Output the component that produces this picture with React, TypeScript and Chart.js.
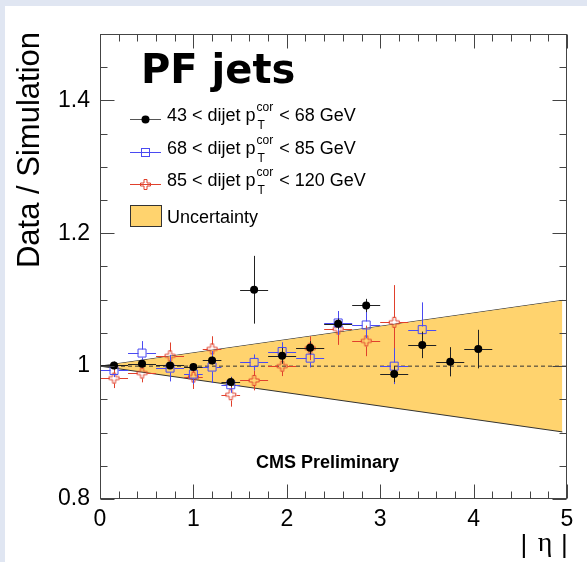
import React, { useEffect, useRef } from "react";
import { Chart, registerables } from "chart.js";

Chart.register(...registerables);

// |eta| bin centres and half widths
const etaCenters = [0.15, 0.45, 0.75, 1.0, 1.2, 1.4, 1.65, 1.95, 2.25, 2.55, 2.85, 3.15, 3.45, 3.75, 4.05];
const etaHalfWidths = [0.15, 0.15, 0.15, 0.1, 0.1, 0.1, 0.15, 0.15, 0.15, 0.15, 0.15, 0.15, 0.15, 0.15, 0.15];

// Data / Simulation ratio per dijet pT bin
const ratioLowPt = [1.001, 1.0036, 1.001, 0.9986, 1.0086, 0.976, 1.115, 1.0156, 1.0277, 1.0638, 1.0913, 0.988, 1.032, 1.0066, 1.0257];
const errLowPt = [0.006, 0.005, 0.005, 0.006, 0.006, 0.007, 0.051, 0.012, 0.01, 0.008, 0.01, 0.012, 0.02, 0.022, 0.029];

const ratioMidPt = [0.9935, 1.0197, 0.997, 0.988, 0.9986, 0.972, 1.0056, 1.022, 1.012, 1.065, 1.062, 1.0, 1.055];
const errMidPt = [0.01, 0.018, 0.02, 0.015, 0.024, 0.012, 0.012, 0.014, 0.014, 0.018, 0.02, 0.027, 0.041];

const ratioHighPt = [0.982, 0.9896, 1.0156, 0.9836, 1.026, 0.957, 0.9785, 1.0, 1.027, 1.056, 1.038, 1.066];
const errHighPt = [0.015, 0.014, 0.02, 0.018, 0.019, 0.018, 0.015, 0.015, 0.018, 0.024, 0.023, 0.056];

const ptEdges = [43, 68, 85, 120];

// Systematic uncertainty band (half width vs |eta|)
const bandEta = [0, 4.95];
const bandHalfWidth = [0, 0.099];

const xTickValues = [0, 1, 2, 3, 4, 5];
const yTickValues = [0.8, 1.0, 1.2, 1.4];

const BAND_FILL = "#ffd36e";
const LINE_DARK = "#333333";
const BLUE = "#4a4af2";
const RED = "#e0402c";
const SANS = '"Liberation Sans", Arial, Helvetica, sans-serif';

function makeOpenCross(color: string): HTMLCanvasElement {
  const c = document.createElement("canvas");
  c.width = 13;
  c.height = 13;
  const g = c.getContext("2d")!;
  const o = 6.5;
  const a = 5;
  const t = 1.5;
  const pts = [
    [-t, -a], [t, -a], [t, -t], [a, -t], [a, t], [t, t],
    [t, a], [-t, a], [-t, t], [-a, t], [-a, -t], [-t, -t],
  ];
  g.beginPath();
  pts.forEach(([px, py], i) => (i ? g.lineTo(o + px, o + py) : g.moveTo(o + px, o + py)));
  g.closePath();
  g.strokeStyle = color;
  g.lineWidth = 1;
  g.stroke();
  return c;
}

const backgroundPlugin = {
  id: "pageBackground",
  beforeDraw(chart: any) {
    const { ctx, width, height } = chart;
    ctx.save();
    ctx.fillStyle = "#e0e6f2";
    ctx.fillRect(0, 0, width, height);
    ctx.fillStyle = "#ffffff";
    ctx.fillRect(5, 6, width - 5, height - 6);
    ctx.restore();
  },
};

const errorBarPlugin = {
  id: "errorBars",
  beforeDatasetDraw(chart: any, args: any) {
    const ds: any = chart.data.datasets[args.index];
    if (!ds.yErr) return;
    const xs = chart.scales.x;
    const ys = chart.scales.y;
    const ctx = chart.ctx;
    ctx.save();
    ctx.strokeStyle = ds.barColor;
    ctx.lineWidth = 1;
    ds.data.forEach((p: any, i: number) => {
      const cx = Math.round(xs.getPixelForValue(p.x)) + 0.5;
      const cy = Math.round(ys.getPixelForValue(p.y)) + 0.5;
      const x0 = xs.getPixelForValue(p.x - ds.xErr[i]);
      const x1 = xs.getPixelForValue(p.x + ds.xErr[i]);
      const yLo = ys.getPixelForValue(p.y - ds.yErr[i]);
      const yHi = ys.getPixelForValue(p.y + ds.yErr[i]);
      const g = ds.gap;
      ctx.beginPath();
      ctx.moveTo(x0, cy);
      ctx.lineTo(cx - g, cy);
      ctx.moveTo(cx + g, cy);
      ctx.lineTo(x1, cy);
      if (yLo - cy > g) {
        ctx.moveTo(cx, yLo);
        ctx.lineTo(cx, cy + g);
      }
      if (cy - yHi > g) {
        ctx.moveTo(cx, cy - g);
        ctx.lineTo(cx, yHi);
      }
      ctx.stroke();
    });
    ctx.restore();
  },
};

function drawFrameAndTicks(chart: any) {
  const { ctx, chartArea } = chart;
  const xs = chart.scales.x;
  const ys = chart.scales.y;
  const L = Math.round(chartArea.left) + 0.5;
  const R = Math.round(chartArea.right) - 0.5;
  const T = Math.round(chartArea.top) + 0.5;
  const B = Math.round(chartArea.bottom) - 0.5;
  ctx.save();
  ctx.strokeStyle = "#444444";
  ctx.lineWidth = 1;
  ctx.strokeRect(L, T, R - L, B - T);
  ctx.beginPath();
  // x ticks every 0.2, major every 1
  for (let k = 0; k <= 25; k++) {
    const v = k * 0.2;
    const px = Math.round(xs.getPixelForValue(v)) + 0.5;
    const len = k % 5 === 0 ? 14 : 7;
    ctx.moveTo(px, B);
    ctx.lineTo(px, B - len);
    ctx.moveTo(px, T);
    ctx.lineTo(px, T + len);
  }
  // y ticks every 0.05, major every 0.2
  for (let k = 0; k <= 14; k++) {
    const v = 0.8 + k * 0.05;
    const py = Math.round(ys.getPixelForValue(v)) + 0.5;
    const len = k % 4 === 0 ? 14 : 7;
    ctx.moveTo(L, py);
    ctx.lineTo(L + len, py);
    ctx.moveTo(R, py);
    ctx.lineTo(R - len, py);
  }
  ctx.stroke();
  ctx.restore();
}

function drawMarker(ctx: CanvasRenderingContext2D, kind: string, x: number, y: number, cross: HTMLCanvasElement) {
  if (kind === "circle") {
    ctx.beginPath();
    ctx.arc(x, y, 4, 0, Math.PI * 2);
    ctx.fillStyle = "#000";
    ctx.fill();
  } else if (kind === "square") {
    ctx.strokeStyle = BLUE;
    ctx.lineWidth = 1;
    ctx.strokeRect(x - 4, y - 4, 8, 8);
  } else {
    ctx.drawImage(cross, x - cross.width / 2, y - cross.height / 2);
  }
}

function makeTextPlugin(cross: HTMLCanvasElement) {
  return {
    id: "annotations",
    afterDraw(chart: any) {
      drawFrameAndTicks(chart);
      const ctx: CanvasRenderingContext2D = chart.ctx;
      ctx.save();
      ctx.fillStyle = "#000";

      // y axis title
      ctx.save();
      ctx.translate(39, 32);
      ctx.rotate(-Math.PI / 2);
      ctx.font = `31px ${SANS}`;
      ctx.textAlign = "right";
      ctx.textBaseline = "alphabetic";
      ctx.fillText("Data / Simulation", 0, 0);
      ctx.restore();

      // x axis title |η|
      ctx.textBaseline = "alphabetic";
      ctx.textAlign = "center";
      ctx.font = `26px ${SANS}`;
      ctx.fillText("|", 524, 553);
      ctx.fillText("|", 564.5, 553);
      ctx.font = '28px "Liberation Serif", "DejaVu Serif", serif';
      ctx.fillText("η", 545, 551);

      // PF jets
      ctx.textAlign = "left";
      ctx.font = 'bold 40px "DejaVu Sans", sans-serif';
      ctx.fillText("PF jets", 141, 83);

      // CMS Preliminary
      ctx.textAlign = "center";
      ctx.font = `bold 18px ${SANS}`;
      ctx.fillText("CMS Preliminary", 327.5, 468);

      // legend
      const rows = [119, 151.5, 184];
      const kinds = ["circle", "square", "cross"];
      const colors = ["#000", BLUE, RED];
      ctx.textAlign = "left";
      rows.forEach((ry, i) => {
        ctx.strokeStyle = colors[i] === "#000" ? "#555" : colors[i];
        ctx.lineWidth = 1;
        ctx.beginPath();
        ctx.moveTo(130, Math.round(ry) + 0.5);
        ctx.lineTo(161, Math.round(ry) + 0.5);
        ctx.stroke();
        drawMarker(ctx, kinds[i], 145.5, Math.round(ry) + 0.5, cross);
        ctx.fillStyle = "#000";
        const base = ry + 2;
        const pre = `${ptEdges[i]} < dijet p`;
        const post = ` < ${ptEdges[i + 1]} GeV`;
        ctx.font = `18px ${SANS}`;
        ctx.fillText(pre, 167, base);
        const x2 = 167 + ctx.measureText(pre).width + 1;
        ctx.font = `12px ${SANS}`;
        ctx.fillText("cor", x2, base - 10);
        ctx.fillText("T", x2 + 1, base + 8);
        const x3 = x2 + ctx.measureText("cor").width + 1;
        ctx.font = `18px ${SANS}`;
        ctx.fillText(post, x3, base);
      });
      ctx.fillStyle = BAND_FILL;
      ctx.fillRect(130, 205, 32, 22);
      ctx.strokeStyle = LINE_DARK;
      ctx.strokeRect(130.5, 205.5, 31, 21);
      ctx.fillStyle = "#000";
      ctx.font = `18px ${SANS}`;
      ctx.fillText("Uncertainty", 167, 223);
      ctx.restore();
    },
  };
}

export default function App() {
  const canvasRef = useRef<HTMLCanvasElement | null>(null);

  useEffect(() => {
    document.body.style.margin = "0";
    const canvas = canvasRef.current;
    if (!canvas) return;
    const cross = makeOpenCross(RED);

    const pointsOf = (vals: number[]) => vals.map((y, i) => ({ x: etaCenters[i], y }));

    const chart = new Chart(canvas, {
      type: "scatter",
      data: {
        datasets: [
          {
            type: "line",
            label: "band-up",
            data: bandEta.map((x, i) => ({ x, y: 1 + bandHalfWidth[i] })),
            borderColor: LINE_DARK,
            borderWidth: 1,
            pointRadius: 0,
            fill: false,
            order: 6,
          },
          {
            type: "line",
            label: "band-down",
            data: bandEta.map((x, i) => ({ x, y: 1 - bandHalfWidth[i] })),
            borderColor: LINE_DARK,
            backgroundColor: BAND_FILL,
            borderWidth: 1,
            pointRadius: 0,
            fill: "-1",
            order: 5,
          },
          {
            type: "line",
            label: "unity",
            data: [{ x: 0, y: 1 }, { x: 5, y: 1 }],
            borderColor: LINE_DARK,
            borderWidth: 1,
            borderDash: [4, 3],
            pointRadius: 0,
            fill: false,
            order: 4,
          },
          {
            label: "85-120",
            data: pointsOf(ratioHighPt),
            pointStyle: cross,
            pointRadius: 5,
            borderColor: RED,
            backgroundColor: "rgba(0,0,0,0)",
            order: 3,
            xErr: etaHalfWidths,
            yErr: errHighPt,
            barColor: RED,
            gap: 5,
          } as any,
          {
            label: "68-85",
            data: pointsOf(ratioMidPt),
            pointStyle: "rect",
            pointRadius: 5.66,
            borderWidth: 1,
            borderColor: BLUE,
            backgroundColor: "rgba(0,0,0,0)",
            order: 2,
            xErr: etaHalfWidths,
            yErr: errMidPt,
            barColor: BLUE,
            gap: 4,
          } as any,
          {
            label: "43-68",
            data: pointsOf(ratioLowPt),
            pointStyle: "circle",
            pointRadius: 4,
            borderWidth: 0,
            borderColor: "#000",
            backgroundColor: "#000",
            order: 1,
            xErr: etaHalfWidths,
            yErr: errLowPt,
            barColor: "#222",
            gap: 0,
          } as any,
        ],
      },
      options: {
        responsive: false,
        animation: false,
        events: [],
        layout: { padding: { top: 34, right: 20, bottom: 0, left: 0 } },
        plugins: {
          legend: { display: false },
          tooltip: { enabled: false },
        },
        scales: {
          x: {
            type: "linear",
            min: 0,
            max: 5,
            grid: { display: false },
            border: { display: false },
            afterFit: (s: any) => {
              s.height = 63;
            },
            afterBuildTicks: (s: any) => {
              s.ticks = xTickValues.map((value) => ({ value }));
            },
            ticks: {
              autoSkip: false,
              maxRotation: 0,
              padding: -1,
              color: "#000",
              font: { family: SANS, size: 23 },
            },
          },
          y: {
            type: "linear",
            min: 0.8,
            max: 1.5,
            grid: { display: false },
            border: { display: false },
            afterFit: (s: any) => {
              s.width = 100;
            },
            afterBuildTicks: (s: any) => {
              s.ticks = yTickValues.map((value) => ({ value }));
            },
            ticks: {
              autoSkip: false,
              padding: 2,
              color: "#000",
              font: { family: SANS, size: 23 },
              callback: (v: any) => String(Number(Number(v).toFixed(2))),
            },
          },
        },
      },
      plugins: [backgroundPlugin, errorBarPlugin, makeTextPlugin(cross)],
    } as any);

    return () => chart.destroy();
  }, []);

  return (
    <div style={{ width: 587, height: 562 }}>
      <canvas ref={canvasRef} width={587} height={562} style={{ display: "block" }} />
    </div>
  );
}
